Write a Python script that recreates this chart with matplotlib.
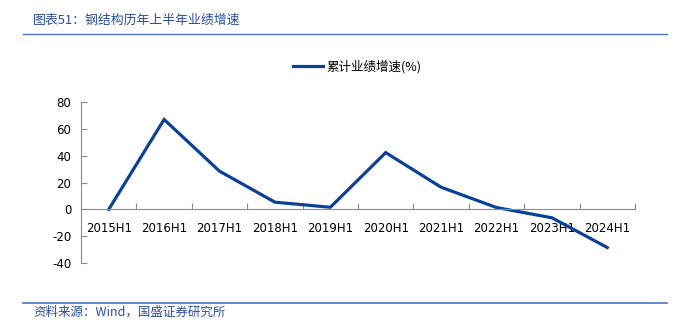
import numpy as np
import matplotlib.pyplot as plt
from matplotlib.lines import Line2D

# -----------------------------
# Data
# -----------------------------
periods = ["2015H1", "2016H1", "2017H1", "2018H1", "2019H1",
           "2020H1", "2021H1", "2022H1", "2023H1", "2024H1"]
growth = [0.0, 66.8, 28.4, 5.4, 1.6, 42.2, 16.5, 1.4, -6.2, -28.3]
y_ticks = [-40, -20, 0, 20, 40, 60, 80]

TITLE = "图表51：钢结构历年上半年业绩增速"
SOURCE = "资料来源：Wind，国盛证券研究所"
SERIES_NAME = "累计业绩增速(%)"

LINE_COLOR = "#0B4296"
TEXT_BLUE = "#2A4F9A"
RULE_BLUE = "#4A74BE"
AXIS_GREY = "#8C8C8C"

plt.rcParams["font.family"] = ["Noto Sans CJK SC", "DejaVu Sans"]

fig = plt.figure(figsize=(6.89, 3.28), dpi=100)
ax = fig.add_axes([81 / 689, 1 - 263.3 / 328, (635 - 81) / 689, (263.3 - 101.7) / 328])

x = np.arange(len(periods))
ax.plot(x, growth, color=LINE_COLOR, linewidth=2.3, solid_joinstyle="miter")

ax.set_xlim(-0.5, len(periods) - 0.5)
ax.set_ylim(-40, 80)

# spines: left axis + category axis at zero
for side in ["top", "right"]:
    ax.spines[side].set_visible(False)
ax.spines["bottom"].set_position(("data", 0))
ax.spines["left"].set_color(AXIS_GREY)
ax.spines["bottom"].set_color(AXIS_GREY)
ax.spines["left"].set_linewidth(0.8)
ax.spines["bottom"].set_linewidth(0.8)

# y ticks
ax.set_yticks(y_ticks)
ax.set_yticklabels([str(v) for v in y_ticks], fontfamily="DejaVu Sans", fontsize=8.5)
ax.tick_params(axis="y", direction="in", length=4, color=AXIS_GREY, pad=7)

# x: boundary ticks (major) and labels at category centres (minor)
ax.set_xticks(np.arange(len(periods) + 1) - 0.5)
ax.set_xticklabels([])
ax.tick_params(axis="x", which="major", direction="in", length=4, color=AXIS_GREY)
ax.set_xticks(x, minor=True)
ax.set_xticklabels(periods, minor=True, fontfamily="DejaVu Sans", fontsize=8.5)
ax.tick_params(axis="x", which="minor", length=0, pad=9)

# legend
handle = Line2D([0], [0], color=LINE_COLOR, linewidth=2.3)
fig.legend([handle], [SERIES_NAME], loc="center", bbox_to_anchor=(357 / 689, 1 - 67 / 328),
           frameon=False, fontsize=9, handlelength=2.4, handletextpad=0.3)

# header / footer
fig.text(33 / 689, 1 - 20.5 / 328, TITLE, color=TEXT_BLUE, fontsize=9.3,
         fontstyle="italic", va="center", ha="left")
fig.add_artist(Line2D([23 / 689, 667 / 689], [1 - 34 / 328] * 2, color=RULE_BLUE, linewidth=1.0))
fig.add_artist(Line2D([23 / 689, 667 / 689], [1 - 302.7 / 328] * 2, color=RULE_BLUE, linewidth=1.2))
fig.text(33 / 689, 1 - 312 / 328, SOURCE, color=TEXT_BLUE, fontsize=9,
         fontstyle="italic", va="center", ha="left")

fig.savefig("out.png", dpi=100)
